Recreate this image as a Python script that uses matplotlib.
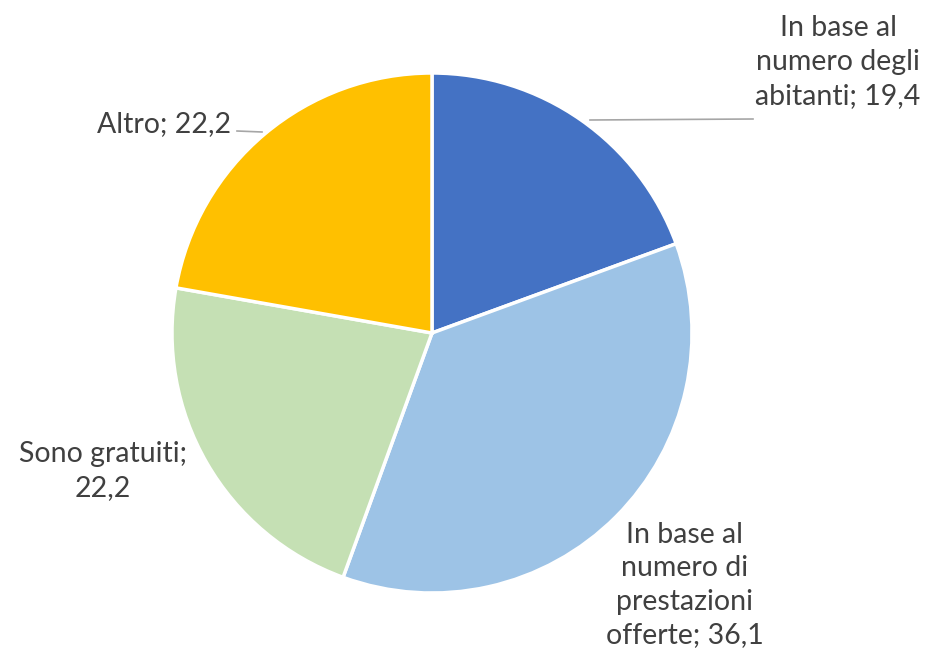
import matplotlib
matplotlib.use("Agg")
import matplotlib.pyplot as plt

# Modalità di determinazione dei compensi (%)
labels = [
    "In base al\nnumero degli\nabitanti; 19,4",
    "In base al\nnumero di\nprestazioni\nofferte; 36,1",
    "Sono gratuiti;\n22,2",
    "Altro; 22,2",
]
values = [19.4, 36.1, 22.2, 22.2]
colors = ["#4472C4", "#9DC3E6", "#C5E0B4", "#FFC000"]

W, H = 935, 659
fig = plt.figure(figsize=(W / 100, H / 100), dpi=100)
ax = fig.add_axes([0, 0, 1, 1])

cx, cy, r = 432, H - 333, 260
ax.pie(values, colors=colors, startangle=90, counterclock=False,
       center=(cx, cy), radius=r, frame=True,
       wedgeprops=dict(edgecolor="white", linewidth=2.5))
ax.set_xlim(0, W)
ax.set_ylim(0, H)
ax.set_aspect("equal")
ax.axis("off")

txt = dict(fontsize=20.5, color="#404040", family="Lato",
           ha="center", va="center", linespacing=1.36)
ax.text(838, H - 62, labels[0], **txt)
ax.text(685, H - 585, labels[1], **txt)
ax.text(103, H - 471, labels[2], **txt)
ax.text(164, H - 124, labels[3], **txt)

# linee guida delle etichette
ax.plot([590, 753], [H - 120, H - 119], color="#A6A6A6", lw=1.2)
ax.plot([237, 262], [H - 131, H - 132], color="#A6A6A6", lw=1.2)

fig.savefig("out.png", dpi=100, facecolor="white")
